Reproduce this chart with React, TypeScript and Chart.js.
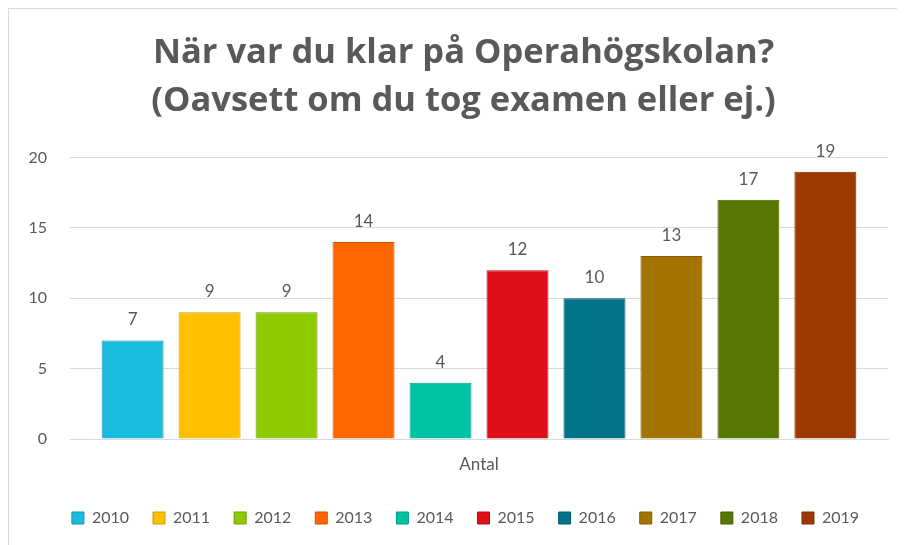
import React, { useEffect, useRef } from "react";
import { Chart, registerables } from "chart.js";

Chart.register(...registerables);

const titleLines = ["När var du klar på Operahögskolan?", "(Oavsett om du tog examen eller ej.)"];
const categories = ["Antal"];
const years = ["2010", "2011", "2012", "2013", "2014", "2015", "2016", "2017", "2018", "2019"];
const counts = [7, 9, 9, 14, 4, 12, 10, 13, 17, 19];
const fillColors = ["#19BCDD", "#FFC000", "#8FC900", "#FF6600", "#00C2A4", "#E10F19", "#007488", "#A57300", "#567700", "#9C3800"];
const borderColors = ["#1496B0", "#CC9A00", "#72A000", "#CC5200", "#009B83", "#B40C14", "#005D6D", "#845C00", "#455F00", "#7D2D00"];

const TEXT = "#595959";
const FONT = "Lato, 'Open Sans', sans-serif";

const valueLabels = {
  id: "valueLabels",
  afterDatasetsDraw(chart: any) {
    const ctx = chart.ctx;
    ctx.save();
    ctx.font = `17px ${FONT}`;
    ctx.fillStyle = TEXT;
    ctx.textAlign = "center";
    ctx.textBaseline = "bottom";
    chart.data.datasets.forEach((ds: any, i: number) => {
      const meta = chart.getDatasetMeta(i);
      if (meta.hidden) return;
      meta.data.forEach((el: any, j: number) => {
        ctx.fillText(String(ds.data[j]), el.x, el.y - 12);
      });
    });
    ctx.restore();
  },
};

// Shift title and legend horizontally so they are centred like the original
const shiftBoxes = {
  id: "shiftBoxes",
  afterLayout(chart: any) {
    if (chart.titleBlock) {
      chart.titleBlock.left += 15;
      chart.titleBlock.right += 15;
    }
    if (chart.legend) {
      chart.legend.left += 17;
      chart.legend.right += 17;
    }
  },
};

export default function App() {
  const ref = useRef<HTMLCanvasElement>(null);
  useEffect(() => {
    if (!ref.current) return;
    const chart = new Chart(ref.current, {
      type: "bar",
      data: {
        labels: categories,
        datasets: years.map((y, i) => ({
          label: y,
          data: [counts[i]],
          backgroundColor: fillColors[i],
          borderColor: borderColors[i],
          borderWidth: 1,
          categoryPercentage: 0.941,
          barPercentage: 0.805,
        })),
      },
      options: {
        animation: false,
        responsive: false,
        maintainAspectRatio: false,
        layout: { padding: { left: 0, right: 17, top: 0, bottom: 9 } },
        plugins: {
          title: {
            display: true,
            text: titleLines,
            color: TEXT,
            font: { family: "'Open Sans', Lato, sans-serif", size: 34.5, weight: "bold", lineHeight: 1.4 },
            padding: { top: 20, bottom: 32 },
          },
          legend: {
            position: "bottom",
            labels: {
              color: TEXT,
              font: { family: FONT, size: 16 },
              boxWidth: 12,
              boxHeight: 12,
              padding: 24,
            },
          },
          tooltip: { enabled: false },
        },
        scales: {
          x: {
            grid: { display: false, drawTicks: false },
            border: { color: "#D9D9D9", width: 1 },
            ticks: { color: TEXT, font: { family: FONT, size: 17 }, padding: 15 },
            afterFit: (scale: any) => {
              scale.height = 47;
            },
          },
          y: {
            min: 0,
            max: 20,
            ticks: { stepSize: 5, color: TEXT, font: { family: FONT, size: 16 }, padding: 23 },
            grid: { color: "#D9D9D9", drawTicks: false },
            border: { display: false },
            afterFit: (scale: any) => {
              scale.width = 61;
            },
          },
        },
      },
      plugins: [valueLabels, shiftBoxes],
    });
    return () => chart.destroy();
  }, []);
  return (
    <div style={{ width: 897, height: 537, borderTop: "1px solid #D9D9D9", borderLeft: "1px solid #D9D9D9", overflow: "hidden" }}>
      <canvas ref={ref} width={896} height={536} style={{ display: "block" }} />
    </div>
  );
}
